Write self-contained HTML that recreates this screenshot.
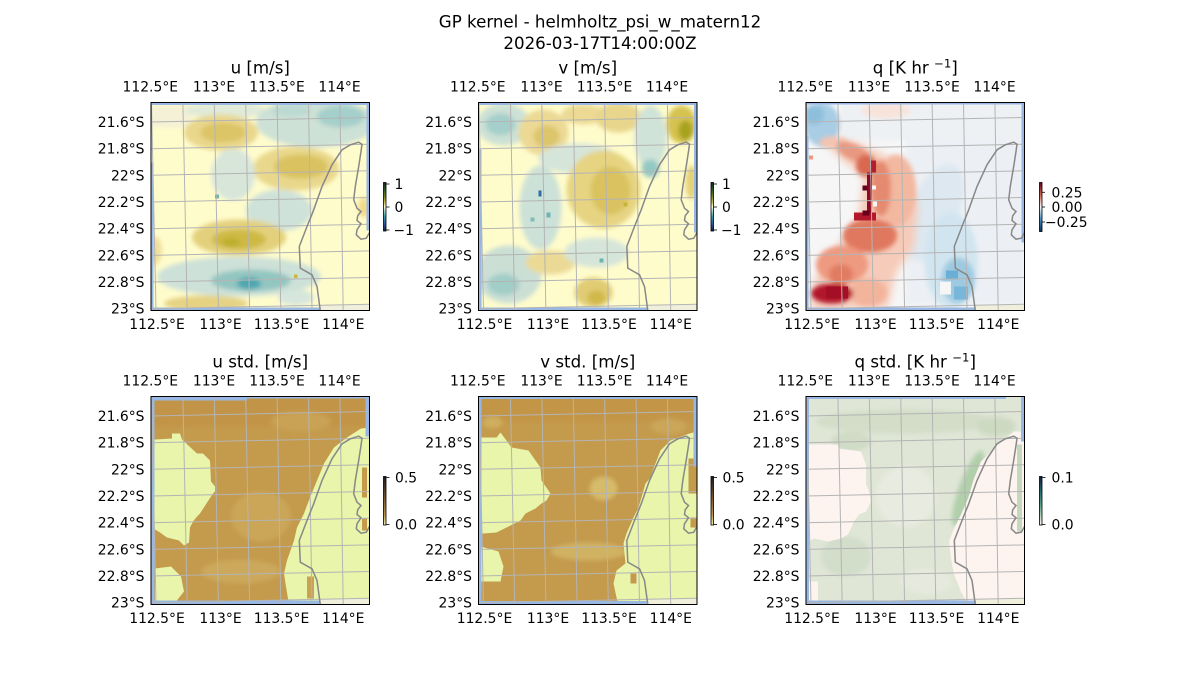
<!DOCTYPE html>
<html>
<head>
<meta charset="utf-8">
<style>
  html,body{margin:0;padding:0;background:#fff;}
  svg{display:block;}
  text{font-family:"DejaVu Sans","Liberation Sans",sans-serif;fill:#000;}
  .t{font-size:13.9px;}
  .h{font-size:16.67px;}
</style>
</head>
<body>
<svg width="1200" height="700" viewBox="0 0 1200 700" xmlns="http://www.w3.org/2000/svg">
<defs>
  <filter id="bl" x="-30%" y="-30%" width="160%" height="160%"><feGaussianBlur stdDeviation="2.5"/></filter>
  <filter id="bl2" x="-30%" y="-30%" width="160%" height="160%"><feGaussianBlur stdDeviation="2"/></filter>
  <filter id="bl4" x="-30%" y="-30%" width="160%" height="160%"><feGaussianBlur stdDeviation="4"/></filter>
  <clipPath id="pc"><rect x="0" y="0" width="218.5" height="208"/></clipPath>
  <linearGradient id="gDelta" x1="0" y1="0" x2="0" y2="1">
    <stop offset="0" stop-color="#172313"/>
    <stop offset="0.15" stop-color="#2a5a2a"/>
    <stop offset="0.3" stop-color="#7a8a1e"/>
    <stop offset="0.42" stop-color="#d4c35c"/>
    <stop offset="0.5" stop-color="#fffdcd"/>
    <stop offset="0.58" stop-color="#a9d3c9"/>
    <stop offset="0.7" stop-color="#3c9ea9"/>
    <stop offset="0.85" stop-color="#2c5ba4"/>
    <stop offset="1" stop-color="#112040"/>
  </linearGradient>
  <linearGradient id="gRdBu" x1="0" y1="0" x2="0" y2="1">
    <stop offset="0" stop-color="#67001f"/>
    <stop offset="0.25" stop-color="#d6604d"/>
    <stop offset="0.5" stop-color="#f7f7f7"/>
    <stop offset="0.75" stop-color="#4393c3"/>
    <stop offset="1" stop-color="#053061"/>
  </linearGradient>
  <linearGradient id="gTurbid" x1="0" y1="0" x2="0" y2="1">
    <stop offset="0" stop-color="#221e1b"/>
    <stop offset="0.3" stop-color="#5a4127"/>
    <stop offset="0.55" stop-color="#8f6a3a"/>
    <stop offset="0.8" stop-color="#c0964c"/>
    <stop offset="1" stop-color="#e9f6ab"/>
  </linearGradient>
  <linearGradient id="gTempo" x1="0" y1="0" x2="0" y2="1">
    <stop offset="0" stop-color="#151d44"/>
    <stop offset="0.3" stop-color="#1e6d72"/>
    <stop offset="0.6" stop-color="#5da68a"/>
    <stop offset="0.85" stop-color="#c1d9c0"/>
    <stop offset="1" stop-color="#fff6f4"/>
  </linearGradient>
  <g id="ov">
    <g stroke="#b4b4b4" stroke-width="1" fill="none">
      <line x1="0.5" y1="0" x2="5" y2="208"/>
      <line x1="31.9" y1="0" x2="36.2" y2="208"/>
      <line x1="63.3" y1="0" x2="67.4" y2="208"/>
      <line x1="94.7" y1="0" x2="98.6" y2="208"/>
      <line x1="126.1" y1="0" x2="129.8" y2="208"/>
      <line x1="157.5" y1="0" x2="161" y2="208"/>
      <line x1="188.9" y1="0" x2="192.2" y2="208"/>
      <line x1="0" y1="19.5" x2="218.5" y2="15"/>
      <line x1="0" y1="46.2" x2="218.5" y2="41.7"/>
      <line x1="0" y1="72.8" x2="218.5" y2="68.3"/>
      <line x1="0" y1="99.5" x2="218.5" y2="95"/>
      <line x1="0" y1="126.2" x2="218.5" y2="121.7"/>
      <line x1="0" y1="152.9" x2="218.5" y2="148.4"/>
      <line x1="0" y1="179.5" x2="218.5" y2="175"/>
      <line x1="0" y1="206.2" x2="218.5" y2="201.7"/>
    </g>
    <path d="M169.3,208 L166,184 L161,172.3 L149.3,165.7 L148.3,144 L156,124 L162.7,107.3 L171,84 L181,62.3 L191,47.3 L199.3,42.3 L207.7,39.7 L211,41.7 L210,49 L207.7,64 L204.3,84 L202.7,97.3 L206,105.7 L210,109 L206.7,113.3 L206,118 L210,121.3 L206,127.3 L205.3,132.3 L210,136.7 L215.3,135.7 L218.5,130" stroke="#888" stroke-width="1.5" fill="none"/>
  </g>
</defs>

<rect x="0" y="0" width="1200" height="700" fill="#fff"/>

<text class="h" x="600" y="27.5" text-anchor="middle">GP kernel - helmholtz_psi_w_matern12</text>
<text class="h" x="600" y="49" text-anchor="middle">2026-03-17T14:00:00Z</text>

<!-- PANEL 1: u -->
<g transform="translate(151,102.5)">
  <g clip-path="url(#pc)">
    <rect width="218.5" height="208" fill="#fffccc"/>
    <g filter="url(#bl)">
      <rect x="0" y="3" width="40" height="22" fill="#f4f1d6"/>
      <ellipse cx="75" cy="8" rx="42" ry="8" fill="#e0ead8"/>
      <ellipse cx="165" cy="20" rx="60" ry="25" fill="#cde1d6"/>
      <ellipse cx="190" cy="14" rx="24" ry="11" fill="#a4cfca"/>
      <ellipse cx="140" cy="8" rx="20" ry="6" fill="#bcd9d2"/>
      <ellipse cx="70" cy="30" rx="37" ry="18" fill="#e9d78c"/>
      <ellipse cx="72" cy="30" rx="23" ry="10" fill="#dcc566"/>
      <ellipse cx="145" cy="66" rx="43" ry="22" fill="#e9d88c"/>
      <ellipse cx="150" cy="64" rx="27" ry="12" fill="#d9c25e"/>
      <ellipse cx="82" cy="72" rx="22" ry="26" fill="#d8e6da"/>
      <ellipse cx="128" cy="108" rx="33" ry="21" fill="#cfe2d9"/>
      <ellipse cx="88" cy="135" rx="47" ry="18" fill="#e3d07c"/>
      <ellipse cx="88" cy="137" rx="27" ry="10" fill="#cfb944"/>
      <ellipse cx="80" cy="140" rx="9" ry="4" fill="#bcad2c"/>
      <ellipse cx="4" cy="148" rx="7" ry="14" fill="#efdf9c"/>
      <ellipse cx="88" cy="174" rx="82" ry="20" fill="#cde1d8"/>
      <ellipse cx="100" cy="178" rx="40" ry="11" fill="#93c6c1"/>
      <ellipse cx="98" cy="181" rx="12" ry="6" fill="#4ea6b1"/>
      <ellipse cx="55" cy="201" rx="42" ry="8" fill="#e5d283"/>
      <ellipse cx="145" cy="195" rx="18" ry="8" fill="#d6e6dc"/>
      <ellipse cx="213" cy="105" rx="6" ry="10" fill="#efd98c"/>
    </g>
    <rect x="64" y="92" width="4" height="4" fill="#6fb3b0"/>
    <rect x="143" y="172" width="3.5" height="3.5" fill="#c9b83a"/>
    <rect x="0" y="0" width="218.5" height="2.5" fill="#98b7e2"/>
    <rect x="0" y="60" width="2.5" height="148" fill="#98b7e2"/>
    <rect x="215.5" y="0" width="3" height="128" fill="#98b7e2"/>
    <rect x="0" y="205" width="169" height="3" fill="#98b7e2"/>
    <rect x="169" y="202.5" width="49.5" height="5.5" fill="#efefdb"/>
    <use href="#ov"/>
  </g>
  <rect width="218.5" height="208" fill="none" stroke="#000" stroke-width="1"/>
</g>

<!-- PANEL 2: v -->
<g transform="translate(478.5,102.5)">
  <g clip-path="url(#pc)">
    <rect width="218.5" height="208" fill="#fffccc"/>
    <g filter="url(#bl)">
      <ellipse cx="25" cy="22" rx="27" ry="21" fill="#cde1d6"/>
      <ellipse cx="22" cy="22" rx="15" ry="11" fill="#a4cfca"/>
      <ellipse cx="65" cy="30" rx="25" ry="23" fill="#ebd994"/>
      <ellipse cx="68" cy="34" rx="13" ry="11" fill="#dcc56a"/>
      <ellipse cx="100" cy="56" rx="40" ry="15" fill="#d6e5d9"/>
      <ellipse cx="105" cy="12" rx="22" ry="10" fill="#ebd994"/>
      <ellipse cx="140" cy="15" rx="23" ry="15" fill="#e8d68c"/>
      <ellipse cx="172" cy="35" rx="16" ry="32" fill="#d0e3d8"/>
      <ellipse cx="172" cy="66" rx="9" ry="9" fill="#94c8c3"/>
      <ellipse cx="203" cy="22" rx="15" ry="19" fill="#d6c250"/>
      <ellipse cx="207" cy="28" rx="7" ry="10" fill="#a6a21e"/>
      <ellipse cx="125" cy="87" rx="37" ry="39" fill="#e6d482"/>
      <ellipse cx="132" cy="88" rx="20" ry="24" fill="#d9c25e"/>
      <ellipse cx="62" cy="105" rx="21" ry="42" fill="#cce1d7"/>
      <ellipse cx="30" cy="172" rx="33" ry="29" fill="#cbdfd5"/>
      <ellipse cx="25" cy="182" rx="16" ry="11" fill="#a2cec8"/>
      <ellipse cx="72" cy="160" rx="25" ry="12" fill="#ebda96"/>
      <ellipse cx="118" cy="150" rx="32" ry="15" fill="#d6e5d9"/>
      <ellipse cx="115" cy="190" rx="19" ry="15" fill="#e1cc74"/>
      <ellipse cx="118" cy="195" rx="9" ry="7" fill="#d0b84a"/>
      <ellipse cx="213" cy="80" rx="6" ry="17" fill="#e4d076"/>
    </g>
    <rect x="60" y="88" width="3" height="6" fill="#2f6ea5"/>
    <rect x="68" y="110" width="4" height="5" fill="#6db3b3"/>
    <rect x="121" y="156" width="4" height="4" fill="#6db3b3"/>
    <rect x="145" y="100" width="4" height="4" fill="#c8b438"/>
    <rect x="52" y="115" width="4" height="4" fill="#7fbcb8"/>
    <rect x="0" y="0" width="218.5" height="2.5" fill="#98b7e2"/>
    <rect x="0" y="47" width="3" height="161" fill="#98b7e2"/>
    <rect x="215.5" y="0" width="3" height="130" fill="#98b7e2"/>
    <rect x="0" y="205" width="169" height="3" fill="#98b7e2"/>
    <rect x="169" y="202.5" width="49.5" height="5.5" fill="#efefdb"/>
    <use href="#ov"/>
  </g>
  <rect width="218.5" height="208" fill="none" stroke="#000" stroke-width="1"/>
</g>

<!-- PANEL 3: q -->
<g transform="translate(806,102.5)">
  <g clip-path="url(#pc)">
    <rect width="218.5" height="208" fill="#f6f6f6"/>
    <g filter="url(#bl)">
      <rect x="35" y="0" width="183" height="38" fill="#eef1f4"/>
      <rect x="100" y="38" width="118" height="165" fill="#ecf0f4"/>
      <ellipse cx="80" cy="8" rx="25" ry="8" fill="#f8e3da"/>
      <ellipse cx="16" cy="22" rx="18" ry="22" fill="#a9cde4"/>
      <ellipse cx="8" cy="12" rx="10" ry="10" fill="#8dbfdd"/>
      <ellipse cx="128" cy="110" rx="24" ry="52" transform="rotate(22 128 110)" fill="#dde8f1"/>
      <ellipse cx="145" cy="158" rx="27" ry="48" fill="#d1e5f0"/>
      <ellipse cx="152" cy="178" rx="17" ry="23" fill="#9ecae1"/>
    </g>
    <g filter="url(#bl4)">
      <polygon points="20,38 50,40 78,52 102,72 112,105 108,145 90,170 82,205 5,208 8,178 28,152 38,132 52,116 58,75 30,52" fill="#f6cbb9"/>
    </g>
    <g filter="url(#bl)">
      <ellipse cx="28" cy="40" rx="15" ry="6" fill="#f4c4b0"/>
      <ellipse cx="90" cy="88" rx="20" ry="36" fill="#f3b8a0"/>
      <ellipse cx="48" cy="50" rx="19" ry="8" transform="rotate(25 48 50)" fill="#e99880"/>
      <ellipse cx="60" cy="63" rx="10" ry="11" fill="#d9674f"/>
      <ellipse cx="75" cy="86" rx="10" ry="28" fill="#e58a70"/>
      <ellipse cx="64" cy="133" rx="27" ry="17" fill="#e0785e"/>
      <ellipse cx="62" cy="190" rx="19" ry="14" fill="#f3b49c"/>
      <ellipse cx="36" cy="162" rx="26" ry="19" fill="#ee9a80"/>
      <ellipse cx="35" cy="172" rx="12" ry="10" fill="#e07b62"/>
      <ellipse cx="26" cy="191" rx="21" ry="10" fill="#b2182b"/>
    </g>
    <rect x="61" y="70" width="5" height="44" fill="#8c0a23"/>
    <rect x="56.5" y="83" width="5" height="5" fill="#67001f"/>
    <rect x="64" y="58" width="6" height="12" fill="#b31d2d"/>
    <rect x="48" y="110" width="22" height="8" fill="#b2182b"/>
    <rect x="56.5" y="108" width="7" height="5" fill="#67001f"/>
    <rect x="66" y="83" width="4" height="4" fill="#f7f7f7"/>
    <rect x="67" y="99" width="4" height="5" fill="#f7f7f7"/>
    <rect x="20" y="184" width="22" height="12" fill="#a50f26"/>
    <rect x="3" y="53" width="4" height="4" fill="#ef9a80"/>
    <rect x="140" y="168" width="12" height="9" fill="#6baed6"/>
    <rect x="148" y="184" width="14" height="13" fill="#7ab6d9"/>
    <rect x="134" y="179" width="11" height="13" fill="#f6f6f6"/>
    <rect x="0" y="0" width="218.5" height="2" fill="#98b7e2"/>
    <rect x="0" y="34" width="2.5" height="174" fill="#98b7e2"/>
    <rect x="215.5" y="0" width="3" height="140" fill="#98b7e2"/>
    <rect x="0" y="205" width="169" height="3" fill="#98b7e2"/>
    <rect x="169" y="202.5" width="49.5" height="5.5" fill="#efefdb"/>
    <use href="#ov"/>
  </g>
  <rect width="218.5" height="208" fill="none" stroke="#000" stroke-width="1"/>
</g>

<!-- PANEL 4: u std -->
<g transform="translate(151,396.5)">
  <g clip-path="url(#pc)">
    <rect width="218.5" height="208" fill="#c49a4c"/>
    <g filter="url(#bl2)">
      <rect x="0" y="0" width="218.5" height="30" fill="#c29446"/>
      <ellipse cx="110" cy="120" rx="30" ry="25" fill="#cba659"/>
      <ellipse cx="90" cy="175" rx="40" ry="12" fill="#cba85b"/>
      <ellipse cx="150" cy="25" rx="30" ry="10" fill="#c9a255"/>
    </g>
    <g fill="#e8f5aa">
      <polygon points="0,42 4,43 21,42 21,37 29,37 31,43 46,57 52,57 59,64 60,85 64,90 64,95 62,97 60,100 49,117 46,120 42,125 39,131 38,146 33,149 28,144 16,141 9,136 4,133 0,133"/>
      <polygon points="4,172 20,170 30,180 33,195 25,205 4,205"/>
      <polygon points="218.5,31 210,32 196,41 183,51 173,67 166,84 159,101 153,117 146,131 143,144 136,164 133,177 135,190 138,208 218.5,208"/>
    </g>
    <rect x="211" y="71" width="5" height="30" fill="#c49a4c"/>
    <rect x="211" y="122" width="5" height="12" fill="#c49a4c"/>
    <rect x="156" y="180" width="7" height="22" fill="#c9a255"/>
    <rect x="0" y="0" width="96" height="4" fill="#98b7e2"/>
    <rect x="96" y="0" width="122.5" height="2" fill="#98b7e2"/>
    <rect x="0" y="0" width="3.5" height="208" fill="#98b7e2"/>
    <rect x="214.5" y="0" width="4" height="40" fill="#98b7e2"/>
    <rect x="0" y="204" width="169" height="4" fill="#98b7e2"/>
    <rect x="169" y="202" width="49.5" height="6" fill="#efefdb"/>
    <use href="#ov"/>
  </g>
  <rect width="218.5" height="208" fill="none" stroke="#000" stroke-width="1"/>
</g>

<!-- PANEL 5: v std -->
<g transform="translate(478.5,396.5)">
  <g clip-path="url(#pc)">
    <rect width="218.5" height="208" fill="#c49a4c"/>
    <g filter="url(#bl2)">
      <rect x="0" y="0" width="218.5" height="25" fill="#c39547"/>
      <ellipse cx="125" cy="92" rx="14" ry="12" fill="#d6bb6a"/>
      <ellipse cx="110" cy="155" rx="38" ry="9" fill="#d0b263"/>
      <ellipse cx="14" cy="26" rx="10" ry="6" fill="#cfae5e"/>
      <ellipse cx="190" cy="30" rx="18" ry="8" fill="#cba659"/>
    </g>
    <g fill="#e8f5aa">
      <polygon points="2,41 18,41 22,36 28,44 33,51 50,54 57,64 62,71 63,84 72,97 68,104 63,107 57,112 47,117 42,124 28,131 18,136 5,137 2,137"/>
      <polygon points="2,150 20,155 25,170 22,185 2,185"/>
      <polygon points="218.5,35 211,37 192,44 182,54 177,67 172,81 167,87 160,111 155,121 148,137 145,147 147,167 138,174 135,187 138,201 140,208 218.5,208"/>
    </g>
    <rect x="210" y="62" width="8" height="35" fill="#c49a4c"/>
    <rect x="212" y="121" width="6" height="10" fill="#c49a4c"/>
    <rect x="152" y="177" width="6" height="10" fill="#c49a4c"/>
    <rect x="0" y="0" width="218.5" height="2.5" fill="#98b7e2"/>
    <rect x="0" y="0" width="3" height="208" fill="#98b7e2"/>
    <rect x="215" y="0" width="3.5" height="70" fill="#98b7e2"/>
    <rect x="0" y="204.5" width="168" height="3.5" fill="#98b7e2"/>
    <rect x="168" y="202" width="50.5" height="6" fill="#efefdb"/>
    <use href="#ov"/>
  </g>
  <rect width="218.5" height="208" fill="none" stroke="#000" stroke-width="1"/>
</g>

<!-- PANEL 6: q std -->
<g transform="translate(806,396.5)">
  <g clip-path="url(#pc)">
    <rect width="218.5" height="208" fill="#e0e6d6"/>
    <g filter="url(#bl)">
      <ellipse cx="100" cy="25" rx="90" ry="12" fill="#d3ddc8"/>
      <ellipse cx="45" cy="45" rx="20" ry="10" fill="#d0dcc6"/>
      <ellipse cx="162" cy="92" rx="9" ry="40" transform="rotate(20 162 92)" fill="#b0cfaa"/>
      <ellipse cx="100" cy="100" rx="30" ry="30" fill="#e8ebe0"/>
      <ellipse cx="40" cy="160" rx="25" ry="20" fill="#d2ddca"/>
      <ellipse cx="190" cy="30" rx="20" ry="10" fill="#cddac2"/>
      <ellipse cx="120" cy="185" rx="25" ry="12" fill="#e6eade"/>
    </g>
    <rect x="163" y="95" width="7" height="14" fill="#8fbf8f"/>
    <g fill="#fdf4f0">
      <polygon points="2,48 32,48 33,52 55,55 60,68 60,88 63,95 65,105 60,115 53,118 48,125 42,138 35,142 22,145 8,142 2,145"/>
      <polygon points="218.5,35 208,35 192,48 185,55 175,65 168,82 162,102 155,118 148,132 143,145 145,162 148,178 155,195 162,208 218.5,208"/>
      <polygon points="2,185 12,185 12,205 2,205"/>
    </g>
    <rect x="211" y="48" width="5" height="87" fill="#c5d8bd"/>
    <rect x="0" y="0" width="200" height="2.5" fill="#98b7e2"/>
    <rect x="0" y="0" width="3" height="208" fill="#98b7e2"/>
    <rect x="215" y="0" width="3.5" height="45" fill="#98b7e2"/>
    <rect x="0" y="204" width="170" height="4" fill="#98b7e2"/>
    <rect x="170" y="202" width="48.5" height="6" fill="#efefdb"/>
    <use href="#ov"/>
  </g>
  <rect width="218.5" height="208" fill="none" stroke="#000" stroke-width="1"/>
</g>

<!-- Titles -->
<text class="h" x="260.25" y="73.5" text-anchor="middle">u [m/s]</text>
<text class="h" x="587.75" y="73.5" text-anchor="middle">v [m/s]</text>
<text class="h" x="915.25" y="73.5" text-anchor="middle">q [K hr <tspan dy="-6" font-size="11.7">−1</tspan><tspan dy="6">]</tspan></text>
<text class="h" x="260.25" y="367.5" text-anchor="middle">u std. [m/s]</text>
<text class="h" x="587.75" y="367.5" text-anchor="middle">v std. [m/s]</text>
<text class="h" x="915.25" y="367.5" text-anchor="middle">q std. [K hr <tspan dy="-6" font-size="11.7">−1</tspan><tspan dy="6">]</tspan></text>

<!-- X tick labels -->
<g class="t" text-anchor="middle">
  <text x="150.3" y="91.5">112.5°E</text><text x="214" y="91.5">113°E</text><text x="277" y="91.5">113.5°E</text><text x="339.5" y="91.5">114°E</text>
  <text x="477.8" y="91.5">112.5°E</text><text x="541.5" y="91.5">113°E</text><text x="604.5" y="91.5">113.5°E</text><text x="667" y="91.5">114°E</text>
  <text x="805.3" y="91.5">112.5°E</text><text x="869" y="91.5">113°E</text><text x="932" y="91.5">113.5°E</text><text x="994.5" y="91.5">114°E</text>
  <text x="157" y="329">112.5°E</text><text x="220.5" y="329">113°E</text><text x="281.5" y="329">113.5°E</text><text x="343.3" y="329">114°E</text>
  <text x="484.5" y="329">112.5°E</text><text x="548" y="329">113°E</text><text x="609" y="329">113.5°E</text><text x="670.8" y="329">114°E</text>
  <text x="812" y="329">112.5°E</text><text x="875.5" y="329">113°E</text><text x="936.5" y="329">113.5°E</text><text x="998.3" y="329">114°E</text>
  <text x="150.3" y="385.5">112.5°E</text><text x="214" y="385.5">113°E</text><text x="277" y="385.5">113.5°E</text><text x="339.5" y="385.5">114°E</text>
  <text x="477.8" y="385.5">112.5°E</text><text x="541.5" y="385.5">113°E</text><text x="604.5" y="385.5">113.5°E</text><text x="667" y="385.5">114°E</text>
  <text x="805.3" y="385.5">112.5°E</text><text x="869" y="385.5">113°E</text><text x="932" y="385.5">113.5°E</text><text x="994.5" y="385.5">114°E</text>
  <text x="157" y="623">112.5°E</text><text x="220.5" y="623">113°E</text><text x="281.5" y="623">113.5°E</text><text x="343.3" y="623">114°E</text>
  <text x="484.5" y="623">112.5°E</text><text x="548" y="623">113°E</text><text x="609" y="623">113.5°E</text><text x="670.8" y="623">114°E</text>
  <text x="812" y="623">112.5°E</text><text x="875.5" y="623">113°E</text><text x="936.5" y="623">113.5°E</text><text x="998.3" y="623">114°E</text>
</g>

<!-- Y tick labels -->
<g class="t" text-anchor="end">
  <text x="144.5" y="127">21.6°S</text><text x="144.5" y="153.7">21.8°S</text><text x="144.5" y="180.3">22°S</text><text x="144.5" y="207">22.2°S</text><text x="144.5" y="233.7">22.4°S</text><text x="144.5" y="260.3">22.6°S</text><text x="144.5" y="287">22.8°S</text><text x="144.5" y="313.7">23°S</text>
  <text x="472" y="127">21.6°S</text><text x="472" y="153.7">21.8°S</text><text x="472" y="180.3">22°S</text><text x="472" y="207">22.2°S</text><text x="472" y="233.7">22.4°S</text><text x="472" y="260.3">22.6°S</text><text x="472" y="287">22.8°S</text><text x="472" y="313.7">23°S</text>
  <text x="799.5" y="127">21.6°S</text><text x="799.5" y="153.7">21.8°S</text><text x="799.5" y="180.3">22°S</text><text x="799.5" y="207">22.2°S</text><text x="799.5" y="233.7">22.4°S</text><text x="799.5" y="260.3">22.6°S</text><text x="799.5" y="287">22.8°S</text><text x="799.5" y="313.7">23°S</text>
  <text x="144.5" y="421">21.6°S</text><text x="144.5" y="447.7">21.8°S</text><text x="144.5" y="474.3">22°S</text><text x="144.5" y="501">22.2°S</text><text x="144.5" y="527.7">22.4°S</text><text x="144.5" y="554.3">22.6°S</text><text x="144.5" y="581">22.8°S</text><text x="144.5" y="607.7">23°S</text>
  <text x="472" y="421">21.6°S</text><text x="472" y="447.7">21.8°S</text><text x="472" y="474.3">22°S</text><text x="472" y="501">22.2°S</text><text x="472" y="527.7">22.4°S</text><text x="472" y="554.3">22.6°S</text><text x="472" y="581">22.8°S</text><text x="472" y="607.7">23°S</text>
  <text x="799.5" y="421">21.6°S</text><text x="799.5" y="447.7">21.8°S</text><text x="799.5" y="474.3">22°S</text><text x="799.5" y="501">22.2°S</text><text x="799.5" y="527.7">22.4°S</text><text x="799.5" y="554.3">22.6°S</text><text x="799.5" y="581">22.8°S</text><text x="799.5" y="607.7">23°S</text>
</g>

<!-- Colorbars -->
<g stroke="#000" stroke-width="0.8">
  <rect x="383.5" y="182.5" width="2.5" height="48.5" fill="url(#gDelta)"/>
  <line x1="386" y1="184" x2="389.5" y2="184"/><line x1="386" y1="207" x2="389.5" y2="207"/><line x1="386" y1="230" x2="389.5" y2="230"/>
  <rect x="711" y="182.5" width="2.5" height="48.5" fill="url(#gDelta)"/>
  <line x1="713.5" y1="184" x2="717" y2="184"/><line x1="713.5" y1="207" x2="717" y2="207"/><line x1="713.5" y1="230" x2="717" y2="230"/>
  <rect x="1039.5" y="182.5" width="2.5" height="49" fill="url(#gRdBu)"/>
  <line x1="1042" y1="192.3" x2="1045" y2="192.3"/><line x1="1042" y1="207" x2="1045" y2="207"/><line x1="1042" y1="222" x2="1045" y2="222"/>
  <rect x="383.5" y="476.5" width="2.5" height="48.5" fill="url(#gTurbid)"/>
  <line x1="386" y1="477.5" x2="389.5" y2="477.5"/><line x1="386" y1="524.5" x2="389.5" y2="524.5"/>
  <rect x="711" y="476.5" width="2.5" height="48.5" fill="url(#gTurbid)"/>
  <line x1="713.5" y1="477.5" x2="717" y2="477.5"/><line x1="713.5" y1="524.5" x2="717" y2="524.5"/>
  <rect x="1039.5" y="476.5" width="2.5" height="48.5" fill="url(#gTempo)"/>
  <line x1="1042" y1="477.5" x2="1045.5" y2="477.5"/><line x1="1042" y1="524.5" x2="1045.5" y2="524.5"/>
</g>
<g class="t">
  <text x="394.5" y="189">1</text><text x="394.5" y="212">0</text><text x="393.5" y="235">−1</text>
  <text x="722" y="189">1</text><text x="722" y="212">0</text><text x="721" y="235">−1</text>
  <text x="1051.5" y="197.3">0.25</text><text x="1051.5" y="212">0.00</text><text x="1045" y="227">−0.25</text>
  <text x="395" y="482.5">0.5</text><text x="395" y="529.5">0.0</text>
  <text x="722.5" y="482.5">0.5</text><text x="722.5" y="529.5">0.0</text>
  <text x="1051.5" y="482.5">0.1</text><text x="1051.5" y="529.5">0.0</text>
</g>
</svg>
</body>
</html>
